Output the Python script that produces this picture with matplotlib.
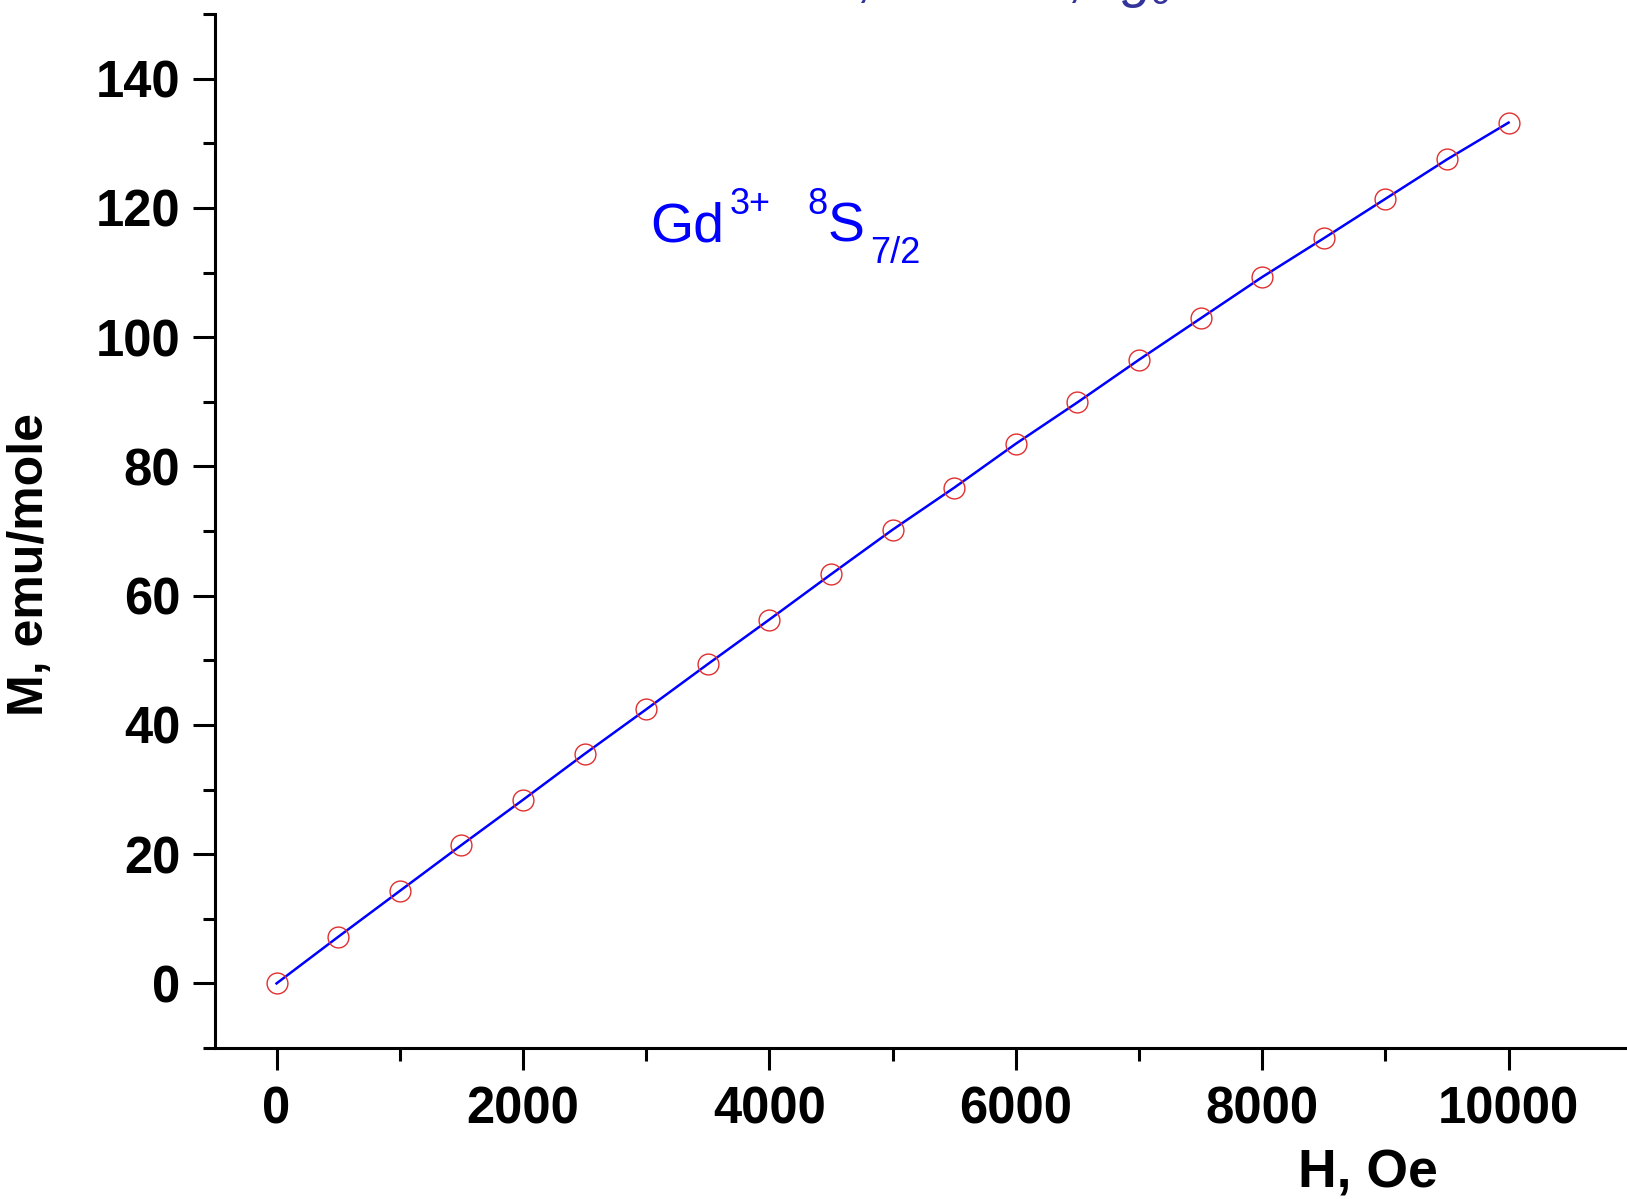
import numpy as np
import matplotlib.pyplot as plt
from matplotlib.ticker import MultipleLocator

plt.rcParams['font.family'] = ['Liberation Sans', 'DejaVu Sans']
plt.rcParams['mathtext.fontset'] = 'custom'
plt.rcParams['mathtext.rm'] = 'Liberation Sans'
plt.rcParams['mathtext.it'] = 'Liberation Sans:italic'

# magnetization of Gd3+ vs field
field = [0, 500, 1000, 1500, 2000, 2500, 3000, 3500, 4000, 4500, 5000,
         5500, 6000, 6500, 7000, 7500, 8000, 8500, 9000, 9500, 10000]
moment = [0.0, 7.2, 14.3, 21.4, 28.4, 35.5, 42.4, 49.4, 56.3, 63.3, 70.2,
          76.7, 83.5, 89.9, 96.5, 102.9, 109.3, 115.3, 121.4, 127.5, 133.2]
xticks = [0, 2000, 4000, 6000, 8000, 10000]
yticks = [0, 20, 40, 60, 80, 100, 120, 140]

W, H = 1627, 1199
fig = plt.figure(figsize=(W / 100, H / 100), dpi=100)
ax = fig.add_axes([0.1321, 0.1259, 0.9087, 0.8624])

ax.plot(field, moment, color='#0000ff', lw=1.8, zorder=2)
ax.plot(field, moment, 'o', ms=15, mfc='none', mec='#e03030', mew=1.0, zorder=3)

ax.set_xlim(-500, 11500)
ax.set_ylim(-10, 150)
ax.set_xticks(xticks)
ax.set_yticks(yticks)
ax.xaxis.set_minor_locator(MultipleLocator(1000))
ax.yaxis.set_minor_locator(MultipleLocator(10))

for s in ['top', 'right']:
    ax.spines[s].set_visible(False)
for s in ['left', 'bottom']:
    ax.spines[s].set_linewidth(2.2)

ax.tick_params(which='major', length=16, width=2.2, direction='out')
ax.tick_params(which='minor', length=9, width=2.2, direction='out')
ax.tick_params(axis='y', which='major', pad=9)
ax.tick_params(axis='x', which='major', pad=11)
for lab in ax.get_xticklabels() + ax.get_yticklabels():
    lab.set_fontsize(36.5)
    lab.set_fontweight('bold')

fig.text(0.8408, 0.0092, 'H, Oe', ha='center', va='baseline',
         fontsize=38.5, fontweight='bold')
fig.text(0.0184, 0.5288, 'M, emu/mole', ha='center', va='center',
         rotation=90, fontsize=36, fontweight='bold')


def px_text(x, y, s, size, **kw):
    # place text by pixel position measured from top-left
    fig.text(x / W, 1 - y / H, s, ha='left', va='baseline', fontsize=size,
             color='#0000ff', **kw)


# term symbol label
px_text(650, 242, 'Gd', 40)
px_text(730, 214, '3+', 26)
px_text(807, 214, '8', 26)
px_text(828, 242, 'S', 40)
px_text(870, 263, '7/2', 26)

# heading line sitting above the frame
fig.text(0.424, 1.003, r'$S = 7/2,\ \ J = 7/2,\ \ g_{J} = 2$', ha='left',
         va='baseline', fontsize=40, color='#333399')

fig.savefig('out.png', dpi=100)
